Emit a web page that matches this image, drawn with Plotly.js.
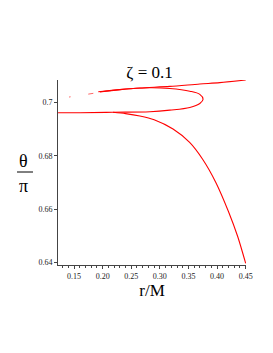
<!DOCTYPE html>
<html>
<head>
<meta charset="utf-8">
<script src="https://cdn.plot.ly/plotly-3.0.1.min.js"></script>
<style>html,body{margin:0;padding:0;background:#fff;}#chart{width:273px;height:353px;}</style>
</head>
<body>
<div id="chart"></div>
<script>
// Upper branch (solid part)
const upperR = [0.1924, 0.2302, 0.2651, 0.3174, 0.3698, 0.4047, 0.4500];
const upperT = [0.7040, 0.7048, 0.7054, 0.7060, 0.7069, 0.7074, 0.7084];
// Sparse dotted points continuing the upper branch to the left
const dotsR = [0.1413, 0.1440, null, 0.1749, 0.1837];
const dotsT = [0.7020, 0.7021, null, 0.7031, 0.7034];
// Loop: from left along bottom, around the tip, back along top
const loopR = [0.1221, 0.1605, 0.2180, 0.2826, 0.3174, 0.3523, 0.3698, 0.3755, 0.3698, 0.3523, 0.3174, 0.2826, 0.2302, 0.1954];
const loopT = [0.6961, 0.6961, 0.6963, 0.6965, 0.6971, 0.6981, 0.6996, 0.7012, 0.7030, 0.7042, 0.7052, 0.7055, 0.7048, 0.7039];
// Lower branch bending down
const lowerR = [0.2180, 0.2400, 0.2650, 0.2900, 0.3230, 0.3520, 0.3750, 0.3980, 0.4200, 0.4360, 0.4500];
const lowerT = [0.6963, 0.6958, 0.6949, 0.6935, 0.6900, 0.6850, 0.6786, 0.6699, 0.6590, 0.6497, 0.6396];

const xTickVals = [0.15, 0.20, 0.25, 0.30, 0.35, 0.40, 0.45];
const yTickVals = [0.64, 0.66, 0.68, 0.70];

const red = 'rgb(255,0,0)';
const serif = 'Liberation Serif, Times New Roman, serif';

const traces = [
  {x: upperR, y: upperT, mode: 'lines', line: {color: red, width: 1.1, shape: 'spline', smoothing: 0.8}, hoverinfo: 'skip'},
  {x: dotsR, y: dotsT, mode: 'lines', line: {color: red, width: 1, shape: 'linear'}, connectgaps: false, opacity: 0.6, hoverinfo: 'skip'},
  {x: loopR, y: loopT, mode: 'lines', line: {color: red, width: 1.1, shape: 'spline', smoothing: 1}, hoverinfo: 'skip'},
  {x: lowerR, y: lowerT, mode: 'lines', line: {color: red, width: 1.1, shape: 'spline', smoothing: 0.7}, hoverinfo: 'skip'}
];

const layout = {
  width: 273, height: 353,
  margin: {l: 58, r: 27, t: 80, b: 88},
  paper_bgcolor: '#fff', plot_bgcolor: '#fff',
  showlegend: false,
  title: {text: 'ζ = 0.1', font: {family: serif, size: 17, color: '#000'},
          x: 0.487, xref: 'paper', xanchor: 'center', y: 0.796, yref: 'container', yanchor: 'middle'},
  xaxis: {
    range: [0.122, 0.4505], showgrid: false, zeroline: false,
    showline: true, linecolor: '#444', linewidth: 1,
    ticks: 'outside', ticklen: 3, tickcolor: '#444',
    tickvals: xTickVals, tickformat: '.2f',
    tickfont: {family: serif, size: 8, color: '#222'},
    minor: {ticks: 'outside', ticklen: 2, tickcolor: '#444', dtick: 0.01, tick0: 0.15, showgrid: false},
    title: {text: 'r/M', font: {family: serif, size: 17, color: '#000'}, standoff: 0}
  },
  yaxis: {
    range: [0.639, 0.7084], showgrid: false, zeroline: false,
    showline: true, linecolor: '#444', linewidth: 1,
    ticks: 'outside', ticklen: 3, tickcolor: '#444',
    tickvals: yTickVals,
    tickfont: {family: serif, size: 8, color: '#222'}
  },
  annotations: [
    {text: 'θ', xref: 'paper', yref: 'paper', x: -0.181, y: 0.562, showarrow: false,
     font: {family: serif, size: 18, color: '#000'}, xanchor: 'center', yanchor: 'middle'},
    {text: 'π', xref: 'paper', yref: 'paper', x: -0.181, y: 0.427, showarrow: false,
     font: {family: serif, size: 18, color: '#000'}, xanchor: 'center', yanchor: 'middle'}
  ],
  shapes: [
    {type: 'line', xref: 'paper', yref: 'paper', x0: -0.218, x1: -0.133, y0: 0.5027, y1: 0.5027,
     line: {color: '#000', width: 1}}
  ]
};

Plotly.newPlot('chart', traces, layout, {staticPlot: true, displayModeBar: false});
</script>
</body>
</html>
